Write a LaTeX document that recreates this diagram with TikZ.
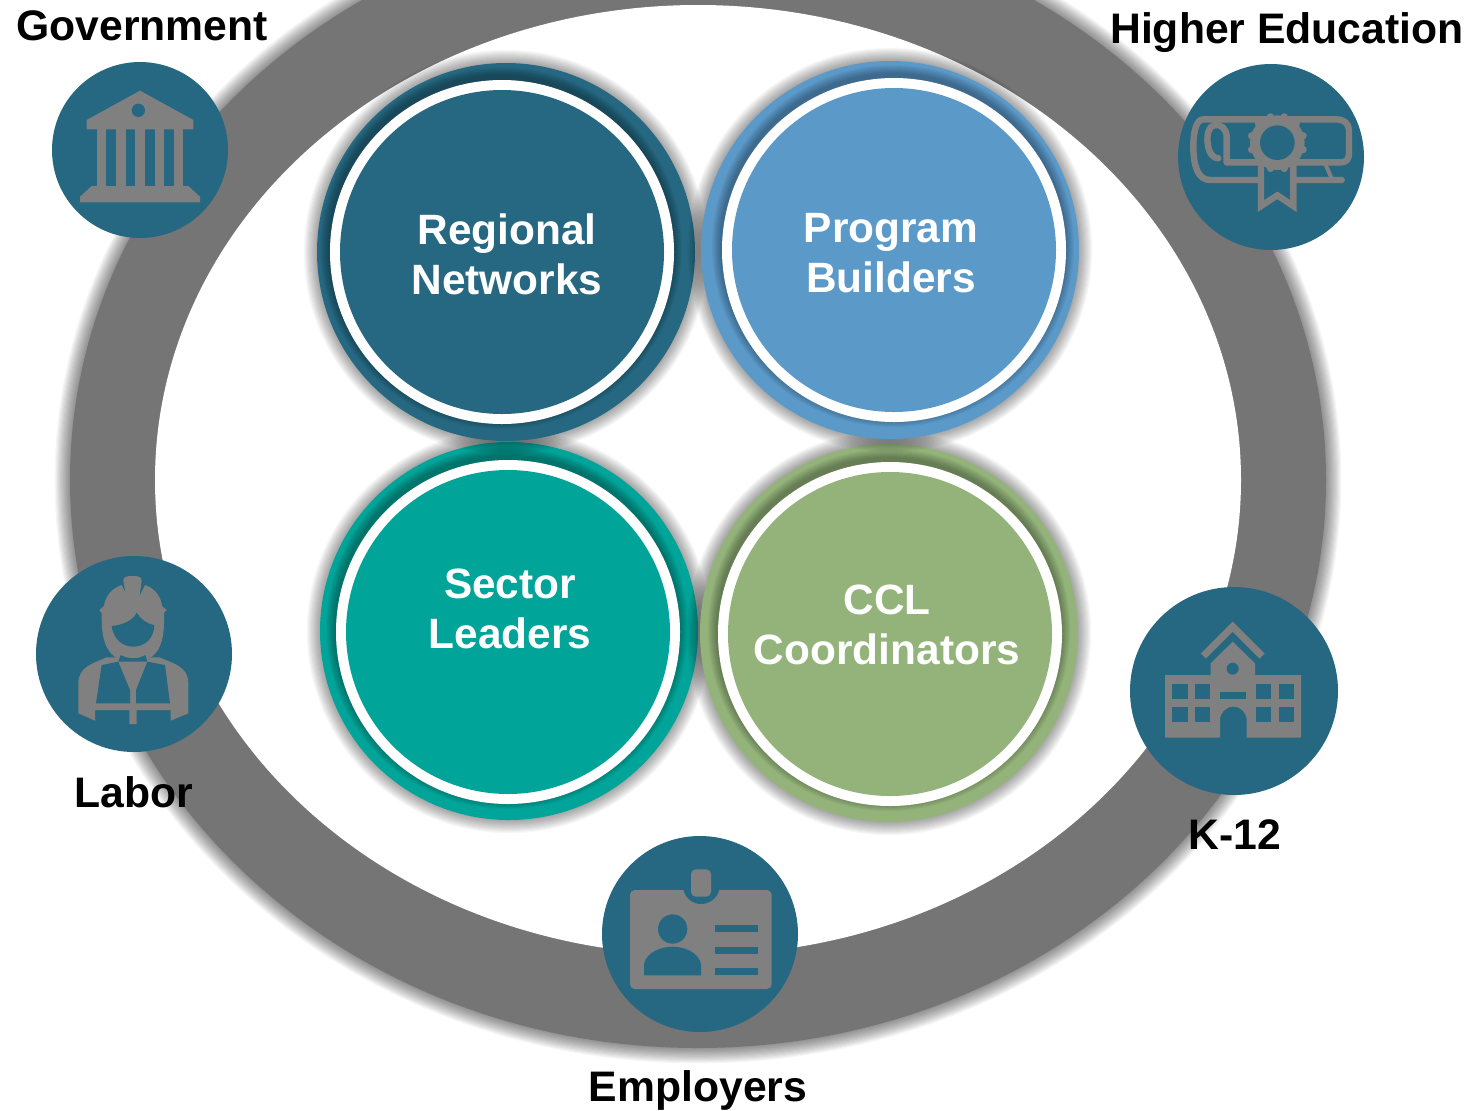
\documentclass[tikz,border=0pt]{standalone}
\usepackage{fontspec}
\setmainfont{Liberation Sans}
\definecolor{ringgrey}{HTML}{757575}
\definecolor{icongrey}{HTML}{808080}
\definecolor{hubteal}{HTML}{266881}
\definecolor{progblue}{HTML}{5B99C9}
\definecolor{sectorteal}{HTML}{00A499}
\definecolor{cclgreen}{HTML}{93B37A}
\tikzset{
  disc/.style={circle,fill=#1,inner sep=0pt,draw=none},
  hub/.style={circle,fill=hubteal,inner sep=0pt,draw=none},
  caption/.style={font=\fontsize{21.35}{25}\selectfont\bfseries,text=black,inner sep=0pt},
  inlabel/.style={font=\fontsize{21.2}{25}\selectfont\bfseries,text=white,inner sep=0pt,align=center},
  ico/.style={fill=icongrey,draw=none},
  icocut/.style={fill=hubteal,draw=none},
  icoline/.style={draw=icongrey,line width=3.2pt,fill=none,line cap=round,line join=round},
  iconscope/.style={x=0.16667pt,y=-0.16667pt}
}
% soft halo: stacked translucent ellipses
\newcommand{\softhalo}[7]{%
  \foreach \kk in {1,...,#5}{%
    \fill[black,opacity=#7] (#1,#2) ellipse [x radius={#3+\kk*#6}, y radius={#4+\kk*#6}];
  }}
% cx cy rout  wx wy  colour  name
\newcommand{\bigdisc}[7]{%
  \softhalo{#1}{#2}{#3}{#3}{12}{1.1}{0.03}%
  \node[disc=#6,minimum size=#3pt] (#7out) at (#1,#2) {};
  \begin{scope}
    \clip (#1,#2) circle [radius=#3];
    \softhalo{#4-1}{#5-4}{172}{172}{9}{1.0}{0.035}%
  \end{scope}
  \node[disc=white,minimum size=172pt] (#7ring) at (#4,#5) {};
  \node[disc=#6,minimum size=162pt] (#7in) at (#4,#5) {};
}
\begin{document}
\begin{tikzpicture}[x=0.5pt,y=-0.5pt]
\useasboundingbox (0,0) rectangle (1468,1110);
\clip (0,0) rectangle (1468,1110);
\fill[white] (0,0) rectangle (1468,1110);
% outer ring
\softhalo{698}{480}{628}{568}{14}{1.1}{0.035}
\fill[ringgrey] (698,480) ellipse [x radius=628, y radius=568];
\fill[white] (698,480) ellipse [x radius=543, y radius=475];
% big discs
\bigdisc{509}{631}{189}{508}{632}{sectorteal}{sector}
\bigdisc{889}{633}{189}{890}{634}{cclgreen}{ccl}
\bigdisc{506}{252}{189}{502}{252}{hubteal}{regional}
\bigdisc{890}{250}{189}{894}{250}{progblue}{program}
\node[inlabel] (tregional) at (507,254) {Regional\\Networks};
\node[inlabel] (tprogram) at (891,253) {Program\\Builders};
\node[inlabel] (tsector) at (510,609) {Sector\\Leaders};
\node[inlabel] (tccl) at (887,624.5) {CCL\\Coordinators};
% satellites
\node[hub,minimum size=88pt] (gov) at (140,150) {};
\node[hub,minimum size=93pt] (hied) at (1271,157) {};
\node[hub,minimum size=98pt] (labor) at (134,654) {};
\node[hub,minimum size=104pt] (ktw) at (1234,691) {};
\node[hub,minimum size=98pt] (emp) at (700,934) {};
% captions
\node[caption] (cgov) at (142,26) {Government};
\node[caption] (chied) at (1287,33) {Higher Education};
\node[caption] (clabor) at (134,792) {Labor};
\node[caption] (cktw) at (1235,835) {K-12};
\node[caption] (cemp) at (698,1090) {Employers};
% government icon
\begin{scope}[shift={(30,50)},iconscope]
  \fill[ico] (330,122) -- (490,210) -- (490,238) -- (170,238) -- (170,210) -- cycle;
  \fill[ico] (185,408) -- (475,408) -- (510,440) -- (510,457) -- (150,457) -- (150,440) -- cycle;
  \foreach \xa/\xb in {200/228,258/288,316/344,374/402,432/460}{
    \fill[ico] (\xa,230) rectangle (\xb,415);
  }
  \fill[icocut] (325,181) circle [radius=20];
\end{scope}
% higher education icon
\begin{scope}[shift={(1160,50)},iconscope]
  \draw[icoline] (200,337) -- (545,337) .. controls (560,337) and (567,325) .. (567,310)
     -- (567,240) .. controls (567,220) and (550,208) .. (530,208) -- (130,208)
     .. controls (110,208) and (100,240) .. (100,290)
     .. controls (100,350) and (115,390) .. (150,390) -- (545,390);
  \draw[icoline] (200,337) -- (200,260) .. controls (200,235) and (180,222) .. (165,225)
     .. controls (145,228) and (140,255) .. (143,280) .. controls (146,310) and (160,325) .. (175,325);
  \draw[icoline,line width=2pt] (495,340) -- (515,385);
  \fill[icocut] (303,345) -- (303,468) -- (352,436) -- (400,468) -- (400,345) -- cycle;
  \draw[draw=icongrey,line width=3.2pt,line join=miter] (303,345) -- (303,468) -- (352,436) -- (400,468) -- (400,345);
  \fill[ico] (352,278) circle [radius=82];
  \foreach \ang in {15,45,...,345}{
    \fill[ico] (352,278) ++(\ang:80) circle [radius=11];
  }
  \fill[icocut] (352,278) circle [radius=52];
\end{scope}
% labor icon
\begin{scope}[shift={(30,550)},iconscope]
  \fill[ico] (215,180) .. controls (215,240) and (210,330) .. (310,340)
     .. controls (410,330) and (402,240) .. (402,180) -- cycle;
  \fill[ico] (208,180) -- (222,168) .. controls (225,140) and (245,115) .. (275,105)
     -- (290,135) -- (330,135) -- (345,105) .. controls (375,115) and (393,140) .. (396,168)
     -- (410,180) -- (400,190) -- (215,190) -- cycle;
  \fill[ico] (280,92) .. controls (280,80) and (290,78) .. (307,78) .. controls (325,78) and (335,80) .. (335,92)
     -- (329,135) -- (288,135) -- cycle;
  \fill[icocut] (245,228) .. controls (280,225) and (310,210) .. (320,188)
     .. controls (330,205) and (350,222) .. (373,225) .. controls (372,265) and (345,290) .. (310,290)
     .. controls (275,290) and (250,265) .. (245,228) -- cycle;
  \fill[ico] (230,322) .. controls (190,340) and (145,350) .. (145,400) -- (145,490) -- (195,512) -- (195,480)
     -- (298,480) -- (298,522) -- (320,522) -- (320,480) -- (422,480) -- (422,512) -- (475,490)
     -- (475,400) .. controls (475,350) and (430,340) .. (388,322) -- cycle;
  \fill[icocut] (265,335) -- (300,420) -- (300,460) -- (198,460) -- (215,345) -- cycle;
  \fill[icocut] (352,335) -- (318,420) -- (318,460) -- (420,460) -- (405,345) -- cycle;
  \fill[icocut] (272,315) .. controls (295,328) and (325,328) .. (346,315) -- (352,335) -- (265,335) -- cycle;
\end{scope}
% school icon
\begin{scope}[shift={(1120,580)},iconscope]
  \draw[draw=icongrey,line width=3.6pt,line join=miter] (250,228) -- (338,140) -- (426,228);
  \fill[ico] (272,250) -- (338,185) -- (405,250) -- (405,285) -- (543,285) -- (543,473) -- (380,473)
     -- (380,420) arc [start angle=0,end angle=-180,radius=40] -- (300,473) -- (135,473) -- (135,285) -- (272,285) -- cycle;
  \fill[icocut] (338,266) circle [radius=18];
  \foreach \xa/\xb in {157/203,225/270,408/453,476/522}{
    \fill[icocut] (\xa,313) rectangle (\xb,357);
    \fill[icocut] (\xa,380) rectangle (\xb,425);
  }
  \fill[icocut] (300,335) rectangle (378,357);
\end{scope}
% badge icon
\begin{scope}[shift={(590,830)},iconscope]
  \fill[ico,rounded corners=2.4pt] (120,180) rectangle (545,477);
  \fill[icocut] (280,178) .. controls (285,205) and (310,222) .. (333,222)
     .. controls (358,222) and (382,205) .. (388,178) -- cycle;
  \fill[ico,rounded corners=2.4pt] (303,118) rectangle (363,200);
  \fill[icocut] (248,297) circle [radius=44];
  \fill[icocut] (162,436) -- (162,402) .. controls (170,365) and (215,350) .. (248,350)
     .. controls (280,350) and (325,365) .. (333,402) -- (333,436) -- cycle;
  \fill[icocut] (375,286) rectangle (503,307);
  \fill[icocut] (375,350) rectangle (503,371);
  \fill[icocut] (375,414) rectangle (503,435);
\end{scope}
\end{tikzpicture}
\end{document}
